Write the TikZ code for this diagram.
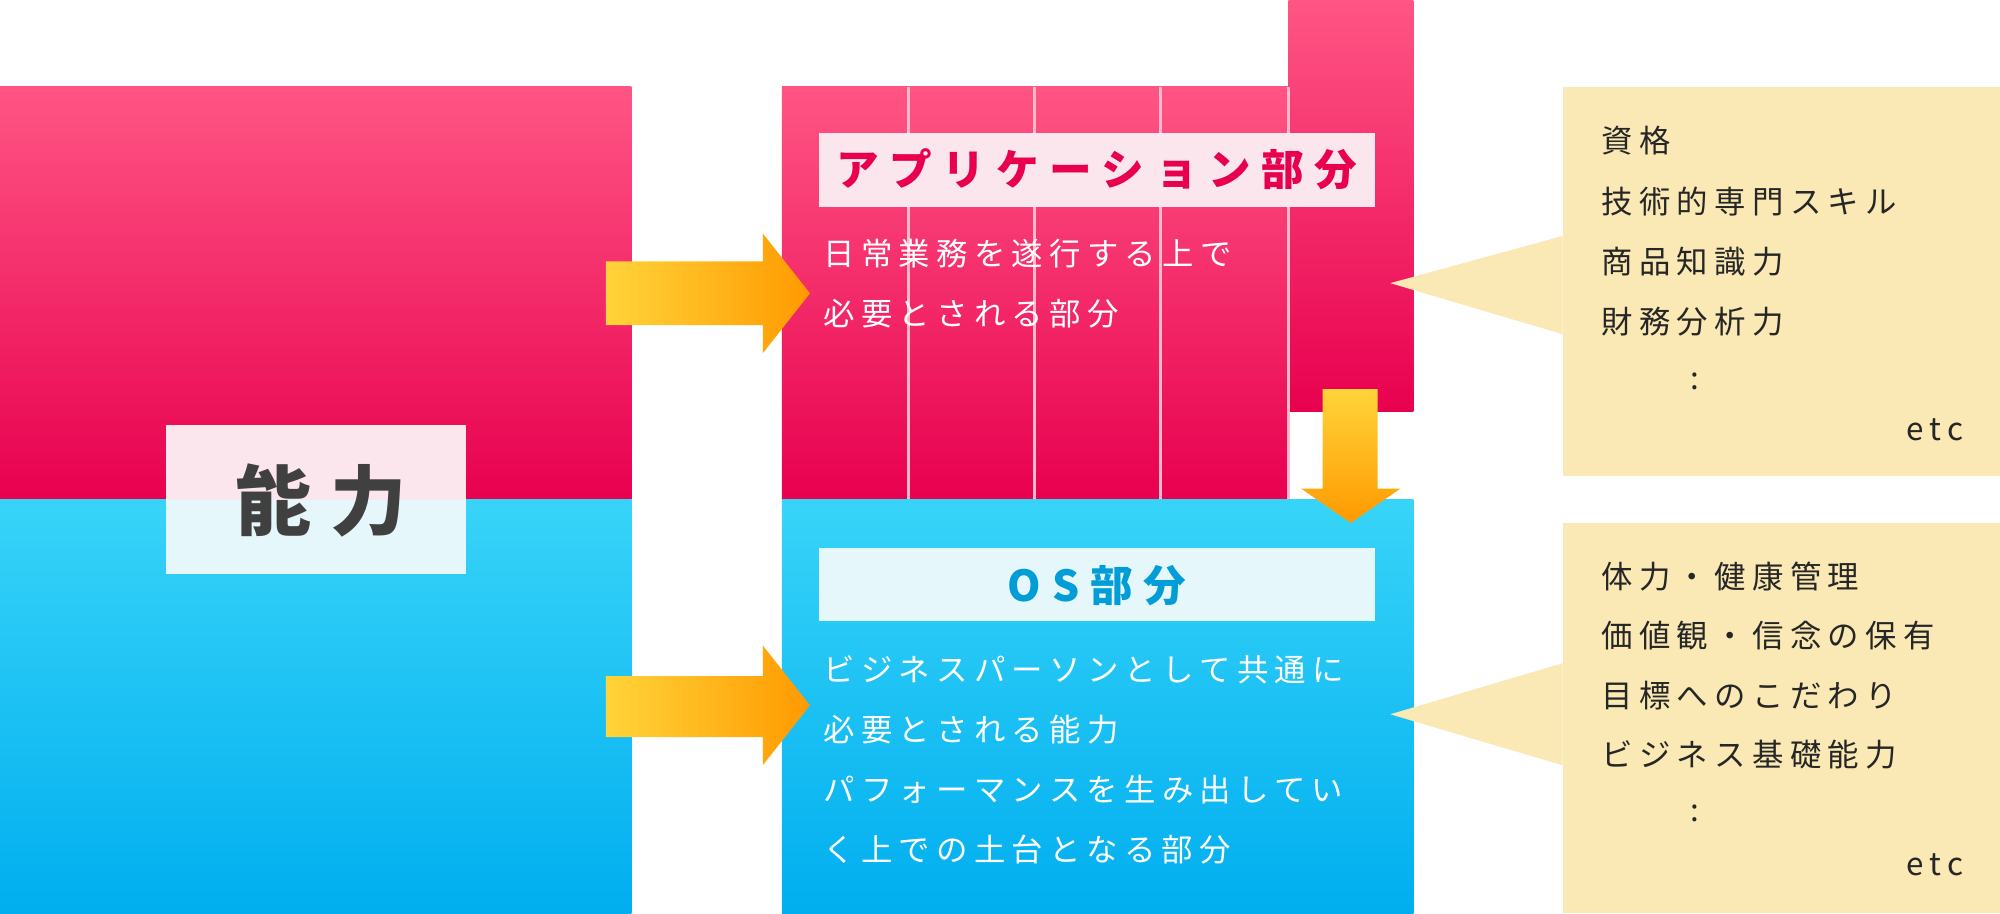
\documentclass[tikz,border=0pt]{standalone}
\usepackage{fontspec}
\setmainfont{Noto Sans CJK JP}
\newfontfamily\jpn[LetterSpace=20]{Noto Sans CJK JP}
\newfontfamily\jpt[LetterSpace=25]{Noto Sans CJK JP}
\definecolor{pinkT}{HTML}{FF5584}
\definecolor{pinkB}{HTML}{E8004F}
\definecolor{blueT}{HTML}{38D4F8}
\definecolor{blueB}{HTML}{00AEEF}
\definecolor{lpink}{HTML}{FCE6EE}
\definecolor{lblue}{HTML}{E6F7FC}
\definecolor{beige}{HTML}{FAE9B5}
\definecolor{arY}{HTML}{FFD43A}
\definecolor{arO}{HTML}{FF9A00}
\tikzset{
 wtxt/.style={anchor=west,text=white,font=\jpn\fontsize{7pt}{8pt}\selectfont,inner sep=0},
 btxt/.style={anchor=west,text=black!85,font=\jpn\fontsize{7pt}{8pt}\selectfont,inner sep=0},
 arrowY/.style={left color=arY,right color=arO,draw=none},
 arrowD/.style={top color=arY,bottom color=arO,draw=none}
}
\begin{document}
\begin{tikzpicture}[x=0.01cm,y=-0.01cm]
\useasboundingbox (0,0) rectangle (1568,716);
% left block
\shade[top color=pinkT,bottom color=pinkB] (0,68) rectangle (495,392);
\shade[top color=blueT,bottom color=blueB] (0,392) rectangle (495,716);
\fill[lpink] (130,333) rectangle (365,392);
\fill[lblue] (130,392) rectangle (365,450);
\node[text=black!75,font=\jpt\bfseries\fontsize{17pt}{18pt}\selectfont] (nl) at (252,392) {能力};
% middle pink
\shade[top color=pinkT,bottom color=pinkB] (613,68) rectangle (1010,392);
\shade[top color=pinkT,bottom color=pinkB] (1010,0) rectangle (1108,323);
\foreach \x in {712,811,910,1010} \draw[white!60!pinkT,line width=0.6pt] (\x,68) -- (\x,392);
\shade[top color=blueT,bottom color=blueB] (613,392) rectangle (1108,716);
% arrows
\shade[arrowY] (475,205) -- (598,205) -- (598,183) -- (635,230) -- (598,277) -- (598,255) -- (475,255) -- cycle;
\shade[arrowY] (475,530) -- (598,530) -- (598,506) -- (635,553) -- (598,600) -- (598,578) -- (475,578) -- cycle;
\shade[arrowD] (1037,305) -- (1080,305) -- (1080,383) -- (1098,383) -- (1059,410) -- (1020,383) -- (1037,383) -- cycle;
% titles
\fill[lpink] (642,104) rectangle (1078,162);
\node[text=pinkB,font=\jpt\bfseries\fontsize{9.5pt}{10pt}\selectfont] (t1) at (860,133) {アプリケーション部分};
\fill[lblue] (642,430) rectangle (1078,487);
\node[text=blueB!90!black,font=\jpt\bfseries\fontsize{9.5pt}{10pt}\selectfont] (t2) at (860,459) {OS部分};
\node[wtxt] (a1) at (645,199) {日常業務を遂行する上で};
\node[wtxt] (a2) at (645,246) {必要とされる部分};
\node[wtxt] (b1) at (645,525) {ビジネスパーソンとして共通に};
\node[wtxt] (b2) at (645,572) {必要とされる能力};
\node[wtxt] (b3) at (645,619) {パフォーマンスを生み出してい};
\node[wtxt] (b4) at (645,666) {く上での土台となる部分};
% callouts
\fill[beige] (1225,68) rectangle (1568,373);
\fill[beige] (1225,185) -- (1090,222) -- (1225,262) -- cycle;
\fill[beige] (1225,410) rectangle (1568,716);
\fill[beige] (1225,520) -- (1090,560) -- (1225,600) -- cycle;
\node[btxt] (c1) at (1255,110) {資格};
\node[btxt] (c2) at (1255,158) {技術的専門スキル};
\node[btxt] (c3) at (1255,205) {商品知識力};
\node[btxt] (c4) at (1255,252) {財務分析力};
\node[btxt] (c5) at (1325,299) {:};
\node[btxt,anchor=east] (c6) at (1540,337) {etc};
\node[btxt] (d1) at (1255,452) {体力・健康管理};
\node[btxt] (d2) at (1255,498) {価値観・信念の保有};
\node[btxt] (d3) at (1255,545) {目標へのこだわり};
\node[btxt] (d4) at (1255,592) {ビジネス基礎能力};
\node[btxt] (d5) at (1325,638) {:};
\node[btxt,anchor=east] (d6) at (1540,678) {etc};
\end{tikzpicture}
\end{document}
